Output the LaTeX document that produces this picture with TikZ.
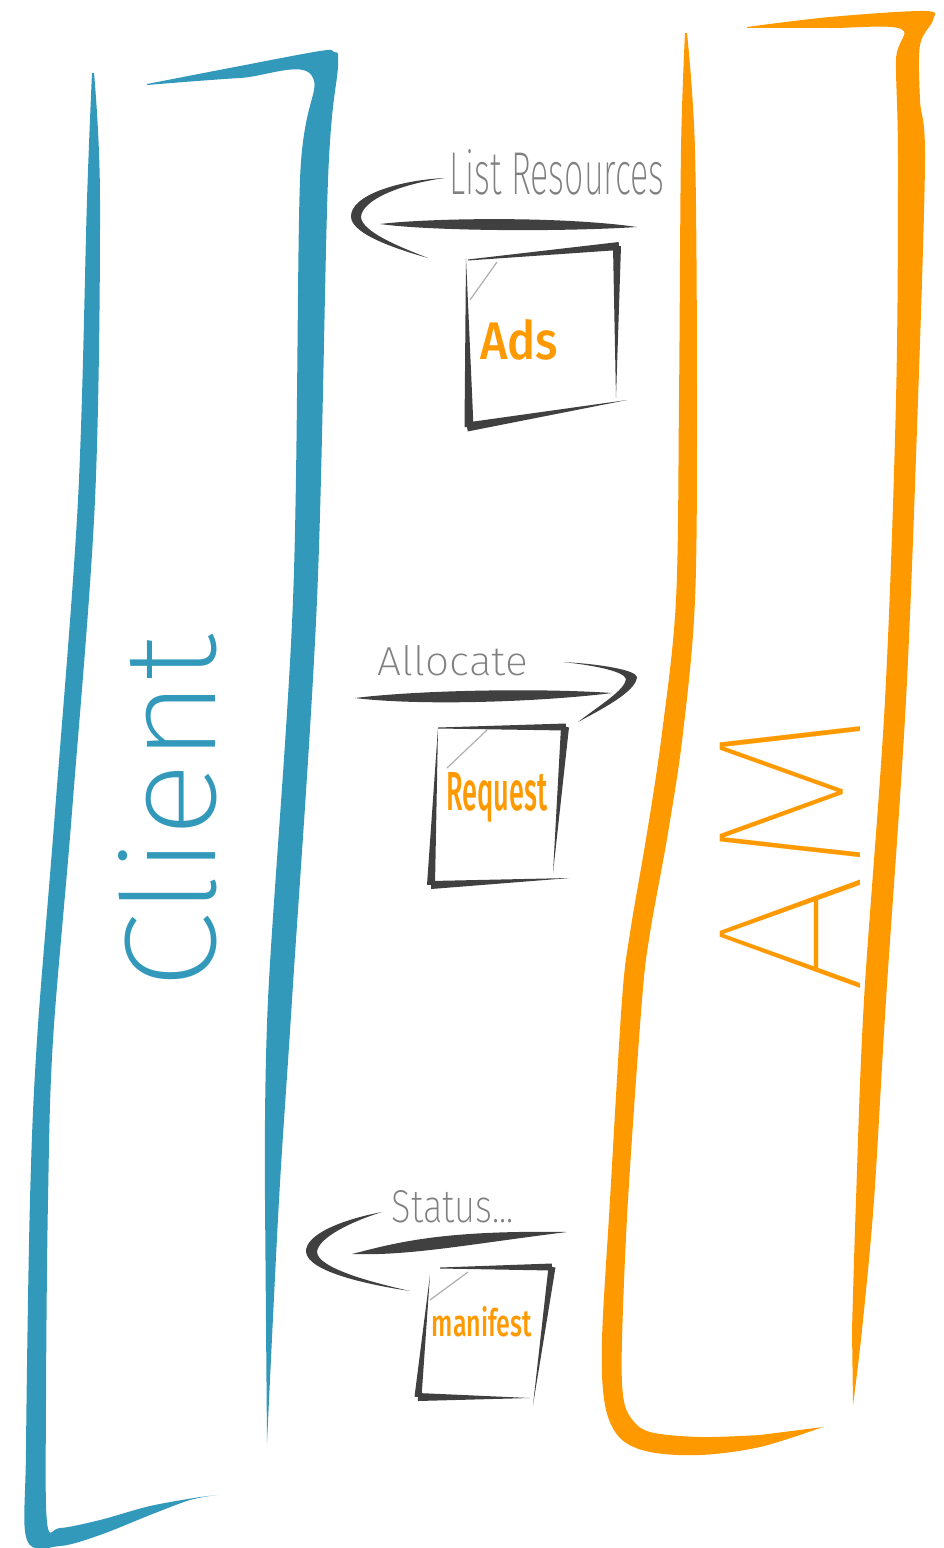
\documentclass[tikz,border=0pt]{standalone}
\usepackage{fontspec}
\usepackage{graphicx}
\usetikzlibrary{calc}

% pen-like fonts: very light ones for the labels, a heavier one for the box contents
\IfFontExistsTF{Fira Sans ExtraLight}
  {\newfontfamily\thinhand{Fira Sans ExtraLight}}
  {\newfontfamily\thinhand{Fira Sans}}
\IfFontExistsTF{Fira Sans Thin}
  {\newfontfamily\hairhand{Fira Sans Thin}}
  {\newfontfamily\hairhand{Fira Sans}}
\IfFontExistsTF{Fira Sans Medium}
  {\newfontfamily\inkhand{Fira Sans Medium}}
  {\newfontfamily\inkhand{Fira Sans}}

\definecolor{clientblue}{RGB}{51,153,187}
\definecolor{amorange}{RGB}{255,153,0}
\definecolor{ink}{RGB}{64,64,64}
\definecolor{pencil}{RGB}{128,128,128}
\definecolor{fold}{RGB}{175,175,175}

% a straight pen stroke whose width goes from #3 at point #2 to #5 at point #4
\newcommand\taper[5][ink]{%
  \fill[#1] ($(#2)!#3*0.5pt!90:(#4)$) -- ($(#4)!#5*0.5pt!-90:(#2)$)
         -- ($(#4)!#5*0.5pt!90:(#2)$) -- ($(#2)!#3*0.5pt!-90:(#4)$) -- cycle;}

\tikzset{
  label text/.style={inner sep=0pt, text=pencil},
  doc text/.style={inner sep=0pt, text=amorange},
  dogear/.style={draw=fold, line width=1.2pt},
  brush/.style={smooth, tension=0.55},
}

\begin{document}
\begin{tikzpicture}[x=1pt, y=-1pt]
  \useasboundingbox (0,0) rectangle (943,1548);
  \fill[white] (0,0) rectangle (943,1548);

  % ---------------- Client column (blue) ----------------
  % top and right side
  \fill[clientblue]
    plot[brush] coordinates {(147,84) (240,66) (320,51) (334,52) (338,66)
      (328,180) (317,600) (292,1000) (279,1200) (267,1443)}
    -- plot[brush] coordinates {(265,1200) (268,1000) (293,600) (300,180)
      (312,76) (240,78) (147,85)} -- cycle;
  % left side and bottom
  \fill[clientblue]
    plot[brush] coordinates {(92,73) (87,200) (78,500) (55,812) (37,1040)
      (30,1200) (26,1450) (27,1540) (60,1546) (100,1535) (150,1515)
      (190,1500) (217,1495)}
    -- plot[brush] coordinates {(200,1497) (150,1506) (100,1520) (60,1528)
      (47,1522) (46,1400) (48,1200) (53,1040) (72,812) (95,500) (100,200)
      (94,73)} -- cycle;
  \node[rotate=90, inner sep=0pt, text=clientblue] (client) at (168,812)
    {\resizebox{355pt}{97pt}{\thinhand Client}};

  % ---------------- AM column (orange) ----------------
  % top and right side
  \fill[amorange]
    plot[brush] coordinates {(747,27) (830,17) (925,11) (933,20) (920,45)
      (920,100) (925,160) (918,400) (906,700) (886,1000) (874,1200)
      (862,1330) (853,1405)}
    -- plot[brush] coordinates {(852,1330) (856,1200) (864,1000) (885,700)
      (896,400) (898,160) (896,60) (901,29) (830,28) (747,28)}
    -- cycle;
  % left side and bottom
  \fill[amorange]
    plot[brush] coordinates {(685,33) (681,150) (679,400) (676,600) (662,733)
      (647,833) (630,933) (622,1000) (610,1200) (602,1340) (605,1405)
      (620,1438) (650,1452) (700,1455) (760,1447) (823,1427)}
    -- plot[brush] coordinates {(760,1435) (700,1437) (650,1432) (631,1418)
      (623,1395) (622,1340) (628,1200) (642,1000) (650,933) (668,833)
      (683,733) (695,600) (697,400) (695,150) (687,33)} -- cycle;
  \node[rotate=90, inner sep=0pt, text=amorange] (am) at (790,852)
    {\resizebox{285pt}{140pt}{\hairhand AM}};

  % ---------------- List Resources: call back to the client ----------------
  \fill[ink] (380,224) .. controls (430,218) and (560,216) .. (637,227)
             .. controls (560,232) and (430,231) .. (380,224) -- cycle;
  \fill[ink] (445,178) .. controls (400,180) and (350,195) .. (351,217)
             .. controls (352,235) and (400,250) .. (428,258)
             .. controls (400,247) and (362,232) .. (361,217)
             .. controls (362,200) and (400,184) .. (445,178) -- cycle;
  \node[label text] (listres) at (557,172)
    {\resizebox{215pt}{45pt}{\thinhand List Resources}};
  % Ads sheet
  \taper{468,260}{1}{619,246}{8}
  \taper{617,246}{8}{616,398}{0}
  \taper{466,258}{0}{469,427}{9}
  \taper{467,427}{9}{627,400}{0}
  \draw[dogear] (470,300) -- (497,262);
  \node[doc text] (ads) at (519,340) {\resizebox{78pt}{40pt}{\inkhand Ads}};

  % ---------------- Allocate: call towards the AM ----------------
  \fill[ink] (355,698) .. controls (420,690) and (540,688) .. (612,693)
             .. controls (540,702) and (420,706) .. (355,698) -- cycle;
  \fill[ink] (563,662) .. controls (600,664) and (636,670) .. (637,677)
             .. controls (636,692) and (600,710) .. (578,722)
             .. controls (600,705) and (625,690) .. (626,679)
             .. controls (624,672) and (600,666) .. (563,662) -- cycle;
  \node[label text] (alloc) at (453,661)
    {\resizebox{150pt}{30pt}{\thinhand Allocate}};
  % Request sheet
  \taper{438,728}{1}{566,727}{7}
  \taper{565,727}{8}{553,873}{0}
  \taper{438,728}{0}{431,885}{8}
  \taper{431,885}{8}{570,878}{0}
  \draw[dogear] (447,768) -- (487,730);
  \node[doc text] (request) at (497,797)
    {\resizebox*{101pt}{50pt}{\inkhand Request}};

  % ---------------- Status: call back to the client ----------------
  \fill[ink] (352,1254) .. controls (395,1243) and (440,1230) .. (567,1232)
             .. controls (470,1244) and (410,1256) .. (352,1254) -- cycle;
  \fill[ink] (382,1212) .. controls (340,1220) and (305,1235) .. (306,1252)
             .. controls (308,1272) and (370,1285) .. (410,1291)
             .. controls (370,1282) and (318,1268) .. (317,1252)
             .. controls (318,1238) and (350,1222) .. (382,1212) -- cycle;
  \node[label text] (status) at (453,1207)
    {\resizebox{122pt}{32pt}{\thinhand Status...}};
  % manifest sheet
  \taper{440,1268}{1}{552,1267}{7}
  \taper{552,1267}{7}{533,1405}{0}
  \taper{430,1275}{0}{418,1397}{7}
  \taper{418,1397}{8}{530,1398}{0}
  \draw[dogear] (430,1300) -- (468,1272);
  \node[doc text] (manifest) at (482,1322)
    {\resizebox{100pt}{30pt}{\inkhand manifest}};
\end{tikzpicture}
\end{document}
